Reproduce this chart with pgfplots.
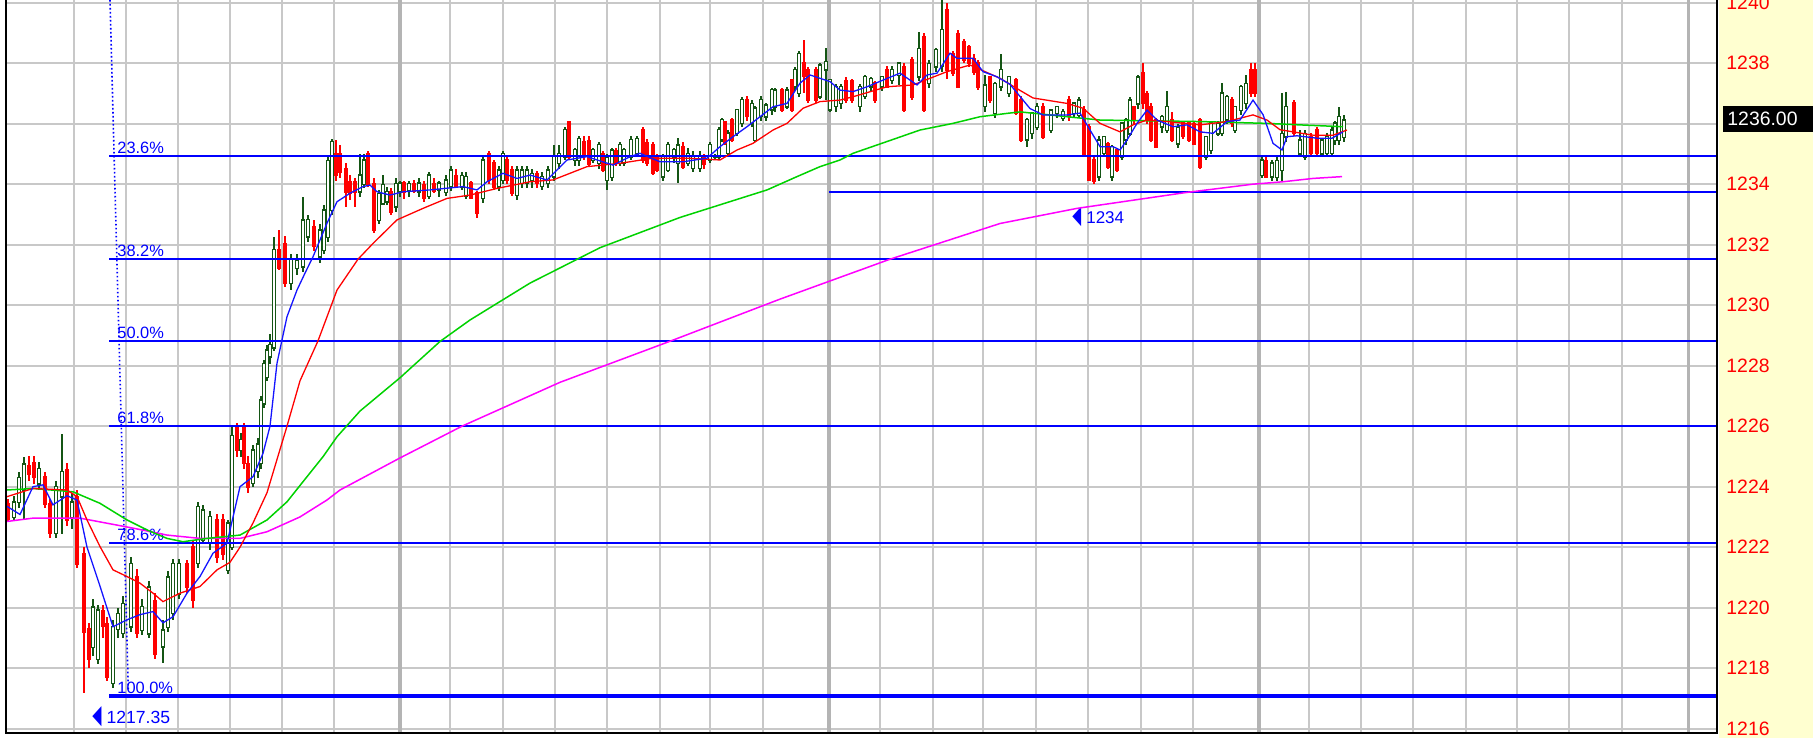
\documentclass[border=0pt]{standalone}
\usepackage{pgfplots}
\pgfplotsset{compat=1.18}
\usepackage{pgfplotstable}
\usepackage{graphicx}
\usepackage{fontspec}
\setmainfont{Liberation Sans}
\newfontfamily\dejavu{DejaVu Sans}
\definecolor{candleG}{RGB}{20,85,20}
\definecolor{candleR}{RGB}{255,0,0}
\definecolor{gridgray}{RGB}{200,200,200}
\definecolor{daygray}{RGB}{180,180,180}
\definecolor{fibblue}{RGB}{0,0,255}
\definecolor{maBlue}{RGB}{20,20,255}
\definecolor{maRed}{RGB}{255,0,0}
\definecolor{maGreen}{RGB}{0,210,0}
\definecolor{maMag}{RGB}{255,0,255}
\definecolor{panel}{RGB}{255,255,208}

\pgfplotstableread{
x o h l c
14 1223.00 1223.70 1222.90 1223.50
19 1223.50 1224.50 1223.30 1224.30
24 1223.90 1225.00 1222.90 1224.75
39 1224.10 1224.80 1223.90 1224.60
56 1222.46 1224.20 1222.30 1224.00
62 1223.67 1225.76 1222.46 1224.50
72 1223.00 1223.80 1222.60 1223.50
93 1218.71 1220.30 1218.40 1220.03
98 1218.30 1220.10 1218.16 1219.92
113 1217.50 1219.60 1217.35 1219.37
118 1219.30 1220.00 1219.00 1219.80
123 1219.15 1220.40 1219.00 1220.14
131 1219.37 1221.70 1219.20 1221.46
142 1219.26 1220.30 1219.10 1220.03
149 1219.15 1220.90 1219.00 1220.69
163 1218.71 1219.59 1218.16 1219.26
168 1219.37 1221.20 1219.20 1221.02
173 1219.81 1221.60 1219.60 1221.46
179 1220.47 1221.60 1220.30 1221.46
198 1221.46 1223.50 1221.30 1223.34
203 1222.24 1223.40 1222.10 1223.23
210 1222.13 1223.20 1221.90 1223.01
228 1221.24 1222.90 1221.10 1222.79
232 1222.01 1226.04 1221.90 1225.70
241 1225.20 1225.80 1225.00 1225.55
253 1224.11 1225.40 1224.00 1225.21
258 1224.50 1225.60 1224.30 1225.40
261 1224.77 1227.00 1224.60 1226.86
264 1226.75 1228.20 1226.60 1228.08
267 1227.63 1228.70 1227.50 1228.52
270 1228.30 1229.07 1228.08 1228.70
274 1228.60 1232.27 1228.50 1231.83
291 1230.73 1231.70 1230.50 1231.50
297 1231.22 1231.70 1231.00 1231.50
303 1231.28 1233.59 1231.10 1232.82
308 1232.27 1233.00 1232.10 1232.82
320 1231.61 1232.70 1231.40 1232.49
324 1231.83 1233.30 1231.70 1233.15
328 1232.27 1234.95 1232.10 1234.80
332 1233.15 1235.52 1233.00 1235.40
360 1233.75 1235.02 1233.60 1234.30
364 1234.00 1235.02 1233.90 1234.80
379 1232.82 1233.80 1232.70 1233.70
383 1233.37 1234.30 1233.30 1234.00
387 1233.42 1233.90 1233.30 1233.75
396 1233.26 1234.20 1233.10 1234.03
400 1233.75 1234.10 1233.60 1234.03
409 1233.80 1234.10 1233.60 1234.03
419 1233.75 1234.20 1233.60 1234.03
429 1233.60 1234.40 1233.50 1234.30
439 1233.81 1234.10 1233.60 1234.03
446 1233.75 1234.30 1233.60 1234.14
451 1233.92 1234.60 1233.80 1234.47
462 1233.92 1234.40 1233.80 1234.30
466 1233.59 1234.40 1233.50 1234.25
483 1233.53 1234.95 1233.40 1234.80
499 1233.92 1234.60 1233.80 1234.47
503 1234.14 1235.10 1234.00 1235.02
517 1233.64 1234.60 1233.50 1234.47
522 1234.03 1234.60 1233.90 1234.47
527 1234.03 1234.60 1233.90 1234.47
532 1234.14 1234.50 1233.90 1234.36
542 1233.92 1234.40 1233.80 1234.25
548 1234.03 1234.60 1233.90 1234.47
554 1234.25 1235.30 1234.10 1234.91
559 1234.70 1235.30 1234.50 1235.00
565 1234.91 1235.90 1234.80 1235.80
575 1234.80 1235.20 1234.60 1235.14
579 1234.80 1235.60 1234.60 1235.52
593 1234.80 1235.20 1234.70 1235.14
599 1234.69 1235.40 1234.50 1235.30
607 1234.14 1235.00 1233.81 1234.91
612 1234.25 1235.20 1234.10 1235.14
620 1234.69 1235.40 1234.60 1235.30
624 1234.69 1235.20 1234.60 1235.14
631 1234.91 1235.60 1234.80 1235.47
637 1235.02 1235.60 1234.90 1235.52
663 1234.25 1235.00 1234.10 1234.91
668 1234.47 1235.40 1234.40 1235.30
674 1234.91 1235.20 1234.70 1235.14
678 1234.70 1235.52 1234.03 1235.30
688 1234.69 1235.20 1234.60 1235.02
693 1234.53 1235.10 1234.40 1234.91
700 1234.53 1235.10 1234.40 1234.91
710 1234.80 1235.40 1234.70 1235.30
715 1234.91 1235.00 1234.85 1234.96
719 1234.91 1235.90 1234.80 1235.80
722 1235.47 1236.20 1235.40 1236.13
728 1235.02 1235.80 1234.90 1235.69
737 1235.69 1236.50 1235.60 1236.46
742 1236.02 1236.90 1235.90 1236.79
752 1236.02 1236.80 1235.90 1236.68
755 1235.46 1236.60 1235.40 1236.51
761 1236.24 1236.90 1236.10 1236.79
766 1236.24 1236.70 1236.10 1236.62
772 1236.46 1237.20 1236.30 1237.12
775 1236.57 1237.20 1236.40 1237.12
787 1236.57 1237.20 1236.50 1237.12
795 1237.23 1237.90 1237.10 1237.78
799 1237.01 1238.40 1236.90 1238.33
820 1236.90 1238.00 1236.80 1237.95
826 1237.78 1238.50 1236.79 1238.05
830 1236.46 1237.50 1236.40 1237.45
836 1236.57 1237.30 1236.40 1237.23
841 1236.68 1237.30 1236.50 1237.23
860 1236.57 1237.30 1236.40 1237.23
865 1236.90 1237.60 1236.80 1237.56
871 1237.23 1237.55 1237.10 1237.50
882 1237.23 1237.60 1237.10 1237.56
892 1237.45 1237.90 1237.30 1237.78
899 1237.61 1238.05 1237.27 1238.00
919 1237.56 1239.04 1237.40 1238.49
929 1237.34 1238.10 1237.20 1238.00
936 1237.89 1238.50 1237.70 1238.44
942 1237.89 1240.09 1237.70 1239.10
985 1236.57 1237.60 1236.40 1237.28
995 1236.35 1237.40 1236.20 1237.34
1001 1237.23 1238.33 1237.10 1237.78
1009 1237.01 1237.60 1236.90 1237.56
1027 1235.46 1236.20 1235.24 1236.13
1032 1235.68 1236.40 1235.50 1236.35
1037 1235.90 1236.70 1235.80 1236.57
1051 1235.79 1236.50 1235.70 1236.46
1057 1236.35 1236.60 1236.20 1236.57
1063 1236.18 1236.50 1236.10 1236.40
1074 1236.35 1236.70 1236.20 1236.68
1079 1236.29 1236.90 1236.20 1236.79
1099 1234.25 1235.60 1234.10 1235.46
1104 1235.02 1235.60 1234.90 1235.57
1112 1234.25 1235.30 1234.10 1235.24
1122 1234.91 1236.05 1234.80 1236.02
1126 1235.46 1236.20 1235.30 1236.13
1130 1235.68 1236.90 1235.60 1236.79
1138 1236.68 1237.60 1236.50 1237.56
1162 1235.90 1236.30 1235.70 1236.24
1167 1235.79 1237.10 1235.70 1236.57
1178 1235.35 1236.00 1235.20 1235.90
1206 1234.91 1235.60 1234.80 1235.57
1211 1235.13 1236.10 1235.00 1236.02
1218 1235.68 1236.10 1235.60 1236.02
1222 1235.68 1237.34 1235.60 1237.01
1227 1236.13 1236.95 1236.00 1236.90
1235 1235.79 1236.60 1235.70 1236.57
1241 1236.46 1237.30 1236.30 1237.23
1246 1236.68 1237.60 1236.50 1237.34
1262 1234.30 1234.90 1234.20 1234.80
1272 1234.25 1234.80 1234.10 1234.69
1277 1234.25 1234.90 1234.10 1234.80
1282 1234.47 1237.01 1234.10 1235.68
1286 1235.57 1237.06 1235.40 1236.57
1300 1235.02 1235.80 1234.90 1235.46
1305 1234.91 1235.80 1234.80 1235.68
1322 1235.02 1235.50 1234.90 1235.46
1327 1235.02 1235.70 1234.90 1235.57
1332 1235.02 1235.90 1234.90 1235.79
1335 1235.46 1236.10 1235.30 1236.02
1339 1235.46 1236.57 1235.30 1236.24
1344 1235.57 1236.30 1235.40 1236.13
}\upC

\pgfplotstableread{
x o h l c
8 1223.45 1223.60 1222.85 1222.95
29 1224.70 1225.00 1224.20 1224.40
34 1224.77 1225.00 1224.10 1224.33
45 1224.33 1224.50 1223.30 1223.45
50 1223.45 1223.60 1222.30 1222.46
67 1224.55 1224.80 1222.70 1222.90
77 1223.67 1223.90 1221.30 1221.46
84 1221.80 1222.00 1217.20 1219.20
89 1219.30 1219.50 1218.00 1218.30
103 1219.90 1220.10 1219.00 1219.40
107 1219.48 1219.70 1217.60 1217.72
137 1221.02 1221.30 1219.00 1219.15
155 1220.25 1220.50 1218.30 1218.49
187 1221.46 1221.60 1220.50 1220.69
193 1222.01 1222.20 1220.00 1220.25
217 1222.90 1223.10 1221.50 1221.68
223 1222.90 1223.10 1221.60 1221.79
237 1225.98 1226.10 1225.00 1225.21
244 1225.98 1226.10 1224.60 1224.77
248 1224.77 1225.00 1223.80 1224.00
279 1231.83 1232.49 1231.17 1231.22
285 1232.05 1232.30 1230.60 1230.73
314 1232.60 1232.80 1231.80 1231.94
336 1235.02 1235.46 1234.10 1234.30
340 1235.00 1235.30 1234.20 1234.40
346 1234.52 1234.70 1233.26 1233.75
350 1234.08 1234.30 1233.50 1233.70
355 1234.08 1234.20 1233.26 1233.75
368 1235.02 1235.10 1233.90 1234.03
374 1234.03 1234.20 1232.40 1232.49
391 1233.75 1233.90 1233.00 1233.10
404 1234.03 1234.10 1233.50 1233.75
414 1234.03 1234.15 1233.70 1233.80
424 1233.97 1234.10 1233.40 1233.53
434 1234.03 1234.20 1233.70 1233.80
456 1234.30 1234.50 1233.90 1233.92
471 1234.03 1234.10 1233.50 1233.53
477 1233.70 1233.80 1232.90 1233.04
489 1235.02 1235.10 1234.00 1234.14
494 1234.70 1234.80 1233.80 1233.92
507 1234.80 1234.90 1234.00 1234.14
512 1234.47 1234.60 1233.60 1233.70
537 1234.36 1234.45 1233.90 1234.03
569 1236.07 1236.10 1234.80 1234.91
584 1235.40 1235.60 1234.80 1235.00
589 1235.46 1235.60 1234.60 1234.69
603 1235.00 1235.10 1234.40 1234.47
616 1235.10 1235.20 1234.60 1234.70
643 1235.80 1235.90 1234.70 1234.80
647 1235.36 1235.50 1234.60 1234.69
653 1235.30 1235.40 1234.30 1234.36
657 1234.91 1235.00 1234.40 1234.47
683 1235.25 1235.40 1234.50 1234.58
704 1234.91 1235.00 1234.50 1234.69
725 1236.07 1236.10 1235.30 1235.36
732 1236.13 1236.20 1235.40 1235.47
747 1236.79 1236.90 1236.10 1236.24
782 1237.12 1237.20 1236.40 1236.46
792 1237.45 1237.50 1236.40 1236.46
804 1238.00 1238.77 1237.01 1237.56
808 1237.78 1237.90 1236.70 1236.79
816 1237.78 1237.90 1236.70 1236.79
846 1237.45 1237.56 1236.70 1236.79
852 1237.45 1237.50 1236.70 1236.79
875 1237.34 1237.40 1236.70 1236.79
887 1237.78 1237.90 1237.20 1237.23
904 1237.89 1238.00 1236.40 1236.46
912 1238.11 1238.20 1236.80 1236.90
924 1238.88 1239.00 1236.40 1236.46
947 1239.76 1240.00 1237.50 1237.78
953 1238.33 1238.40 1237.60 1237.67
958 1238.99 1239.10 1237.20 1237.23
964 1238.71 1238.80 1238.00 1238.11
969 1238.55 1238.60 1237.90 1237.99
974 1238.16 1238.30 1237.60 1237.72
978 1238.00 1238.10 1237.10 1237.23
990 1237.56 1237.60 1236.70 1236.79
1016 1237.45 1237.50 1236.30 1236.35
1021 1236.79 1236.90 1235.40 1235.46
1043 1236.57 1236.70 1235.50 1235.57
1069 1236.79 1236.90 1236.10 1236.24
1084 1236.46 1236.60 1234.90 1235.02
1089 1235.90 1236.00 1234.10 1234.14
1094 1234.80 1234.90 1234.03 1234.10
1108 1235.35 1235.40 1234.50 1234.58
1117 1235.13 1235.20 1234.40 1234.47
1134 1236.57 1236.60 1236.00 1236.13
1143 1237.67 1238.00 1236.50 1236.68
1147 1237.01 1237.10 1236.00 1236.13
1151 1236.57 1236.70 1235.40 1235.46
1156 1236.13 1236.20 1235.20 1235.24
1172 1236.13 1236.40 1235.40 1235.46
1183 1236.02 1236.10 1235.50 1235.57
1189 1236.02 1236.10 1235.40 1235.46
1194 1236.02 1236.10 1235.30 1235.35
1200 1236.13 1236.20 1234.50 1234.58
1232 1236.79 1236.90 1235.90 1236.02
1251 1237.78 1238.00 1236.90 1237.01
1255 1237.78 1238.00 1236.90 1237.01
1266 1234.80 1234.90 1234.20 1234.25
1294 1236.68 1236.80 1235.60 1235.68
1311 1235.57 1235.70 1234.90 1235.02
1317 1235.79 1235.90 1234.90 1235.02
}\dnC

\begin{document}
\begin{tikzpicture}
\useasboundingbox (0,0) rectangle (906.5pt,369pt);
\fill[white] (0,0) rectangle (906.5pt,369pt);
\fill[panel] (859.5pt,0) rectangle (906.5pt,369pt);
\begin{axis}[name=ax, at={(3pt,2.5pt)}, anchor=south west, scale only axis,
  width=855.5pt, height=366.5pt,
  xmin=6, xmax=1717, ymin=1215.857, ymax=1240.089,
  axis line style={draw=none},
  major tick length=0pt,
  xtick={73.5,126,177.5,229.5,281.5,334,450,502.7,555.3,607,659.5,710,762.6,880,932.7,983.3,1035.8,1088.3,1140.9,1193.4,1309,1361,1413.3,1466,1517.3,1569.3,1621.7},
  xticklabel=\empty,
  extra x ticks={400,828.8,1259,1688.3},
  extra x tick labels={},
  extra x tick style={grid=major, major grid style={draw=daygray, line width=1.8pt}},
  ytick={1216,1218,...,1240},
  yticklabels={1216,1218,1220,1222,1224,1226,1228,1230,1232,1234,{},1238,1240},
  yticklabel pos=right,
  yticklabel style={text=red, font=\fontsize{9.7}{10}\selectfont, anchor=west, inner sep=0pt, xshift=4.5pt},
  grid=major,
  major grid style={draw=gridgray, line width=1pt},
]
% candle wicks
\addplot[draw=none, forget plot, error bars/.cd, y dir=both, y explicit, error mark=none,
  error bar style={draw=candleG, line width=0.6pt}]
  table[x=x, y expr={(\thisrow{h}+\thisrow{l})/2}, y error expr={(\thisrow{h}-\thisrow{l})/2}] {\upC};
\addplot[draw=none, forget plot, error bars/.cd, y dir=both, y explicit, error mark=none,
  error bar style={draw=candleR, line width=0.6pt}]
  table[x=x, y expr={(\thisrow{h}+\thisrow{l})/2}, y error expr={(\thisrow{h}-\thisrow{l})/2}] {\dnC};
% candle bodies
\addplot[draw=none, forget plot, error bars/.cd, y dir=both, y explicit, error mark=none,
  error bar style={draw=candleG, line width=2pt}]
  table[x=x, y expr={(\thisrow{o}+\thisrow{c})/2}, y error expr={abs(\thisrow{c}-\thisrow{o})/2+0.03}] {\upC};
\addplot[draw=none, forget plot, error bars/.cd, y dir=both, y explicit, error mark=none,
  error bar style={draw=white, line width=0.7pt}]
  table[x=x, y expr={(\thisrow{o}+\thisrow{c})/2}, y error expr={max(abs(\thisrow{c}-\thisrow{o})/2-0.015,0.0001)}] {\upC};
\addplot[draw=none, forget plot, error bars/.cd, y dir=both, y explicit, error mark=none,
  error bar style={draw=candleR, line width=2pt}]
  table[x=x, y expr={(\thisrow{o}+\thisrow{c})/2}, y error expr={abs(\thisrow{c}-\thisrow{o})/2+0.03}] {\dnC};

% Fibonacci levels
\addplot[fibblue, line width=1pt] coordinates {(109,1234.93) (1717,1234.93)};
\addplot[fibblue, line width=1pt] coordinates {(829,1233.75) (1717,1233.75)};
\addplot[fibblue, line width=1pt] coordinates {(109,1231.52) (1717,1231.52)};
\addplot[fibblue, line width=1pt] coordinates {(109,1228.82) (1717,1228.82)};
\addplot[fibblue, line width=1pt] coordinates {(109,1226.02) (1717,1226.02)};
\addplot[fibblue, line width=1pt] coordinates {(109,1222.13) (1717,1222.13)};
\addplot[fibblue, line width=2pt] coordinates {(109,1217.08) (1717,1217.08)};
\addplot[fibblue, line width=0.8pt, dash pattern=on 0.8pt off 1.2pt] coordinates {(110,1240.09) (128.3,1217.28)};

\begin{scope}[every node/.style={anchor=south west, inner sep=0pt, text=fibblue, font=\fontsize{8.2}{9}\selectfont}]
\node at (axis cs:117,1234.99) {23.6\%};
\node at (axis cs:117,1231.58) {38.2\%};
\node at (axis cs:117,1228.88) {50.0\%};
\node at (axis cs:117,1226.08) {61.8\%};
\node at (axis cs:117,1222.19) {78.6\%};
\node at (axis cs:117,1217.16) {100.0\%};
\end{scope}
\node[anchor=west, inner sep=0pt, text=fibblue, font=\fontsize{8.8}{9}\selectfont] at (axis cs:92,1216.39)
  {{\dejavu\scalebox{0.68}[1.5]{◀}}\hspace{2.5pt}1217.35};
\node[anchor=west, inner sep=0pt, text=fibblue, font=\fontsize{8.5}{9}\selectfont] at (axis cs:1072,1232.91)
  {{\dejavu\scalebox{0.68}[1.5]{◀}}\hspace{2.5pt}1234};

% moving averages
\addplot[maMag, line width=0.75pt] coordinates {(7,1222.85) (33,1222.96) (80,1222.96) (133,1222.63) (167,1222.4) (200,1222.29) (240,1222.29) (267,1222.51) (300,1223.0) (327,1223.56) (340,1223.89) (400,1224.95) (462,1226.0) (560,1227.45) (671,1228.82) (780,1230.2) (890,1231.52) (1000,1232.7) (1077,1233.2) (1185,1233.72) (1253,1234.0) (1283,1234.08) (1313,1234.19) (1342,1234.25)};
\addplot[maGreen, line width=0.75pt] coordinates {(7,1223.89) (33,1223.94) (73,1223.83) (100,1223.45) (127,1222.9) (147,1222.57) (167,1222.29) (183,1222.18) (207,1222.29) (240,1222.4) (267,1222.9) (287,1223.5) (307,1224.33) (323,1224.99) (337,1225.65) (360,1226.5) (400,1227.6) (440,1228.8) (470,1229.51) (530,1230.73) (600,1231.9) (680,1232.9) (767,1233.81) (797,1234.25) (820,1234.58) (840,1234.8) (853,1235.02) (887,1235.41) (920,1235.79) (953,1236.01) (980,1236.23) (1007,1236.34) (1020,1236.39) (1067,1236.23) (1100,1236.12) (1200,1236.07) (1267,1236.01) (1300,1235.96) (1343,1235.9)};
\addplot[maRed, line width=0.65pt] coordinates {(7,1223.67) (33,1223.94) (67,1223.89) (77,1223.67) (87,1222.9) (100,1222.02) (113,1221.25) (127,1221.03) (140,1220.81) (153,1220.48) (163,1220.2) (180,1220.48) (200,1220.7) (217,1221.25) (230,1221.5) (240,1222.0) (253,1222.8) (267,1223.8) (287,1226.0) (300,1227.5) (318,1228.82) (337,1230.5) (358,1231.52) (373,1232.04) (397,1232.82) (423,1233.2) (447,1233.53) (470,1233.64) (497,1233.86) (530,1234.08) (553,1234.14) (587,1234.58) (620,1234.69) (653,1234.86) (687,1234.86) (720,1234.8) (737,1235.13) (753,1235.35) (773,1235.79) (787,1236.01) (803,1236.51) (820,1236.73) (840,1236.78) (853,1236.89) (887,1237.22) (913,1237.28) (947,1237.72) (970,1237.94) (1000,1237.5) (1020,1237.1) (1033,1236.85) (1067,1236.67) (1083,1236.51) (1100,1236.01) (1120,1235.73) (1133,1235.96) (1147,1236.12) (1167,1236.07) (1200,1235.96) (1227,1236.07) (1253,1236.29) (1267,1236.12) (1280,1235.8) (1293,1235.73) (1313,1235.62) (1333,1235.62) (1347,1235.79)};
\addplot[maBlue, line width=0.65pt] coordinates {(7,1223.35) (20,1223.08) (33,1224.0) (43,1224.06) (53,1223.4) (67,1223.7) (77,1223.56) (87,1222.0) (100,1220.71) (113,1219.37) (127,1219.6) (140,1219.77) (153,1219.87) (163,1219.5) (173,1219.7) (187,1220.48) (200,1221.03) (213,1221.8) (227,1222.13) (240,1224.0) (253,1224.33) (263,1225.1) (270,1226.0) (277,1228.08) (287,1229.62) (297,1230.5) (305,1231.06) (313,1231.6) (327,1232.71) (337,1233.42) (350,1233.7) (363,1233.92) (370,1233.97) (377,1233.75) (390,1233.64) (403,1233.75) (430,1233.81) (463,1233.92) (477,1233.81) (487,1234.08) (503,1234.36) (517,1234.19) (530,1234.3) (547,1234.14) (557,1234.47) (567,1234.8) (587,1234.91) (613,1234.63) (630,1234.91) (640,1235.02) (660,1234.74) (683,1234.74) (707,1234.86) (720,1235.24) (733,1235.57) (747,1235.9) (760,1236.23) (773,1236.56) (787,1236.67) (800,1237.34) (810,1237.61) (820,1237.5) (830,1237.39) (840,1237.11) (853,1237.06) (867,1237.22) (883,1237.44) (900,1237.67) (917,1237.28) (927,1237.61) (937,1237.67) (950,1238.33) (957,1238.16) (973,1238.16) (983,1237.72) (997,1237.55) (1010,1237.3) (1020,1236.9) (1030,1236.5) (1043,1236.29) (1067,1236.29) (1080,1236.35) (1090,1235.79) (1100,1235.24) (1113,1235.24) (1120,1235.13) (1127,1235.46) (1137,1236.01) (1147,1236.45) (1157,1236.12) (1173,1235.9) (1187,1235.96) (1200,1235.73) (1213,1235.68) (1227,1236.07) (1240,1236.12) (1253,1236.78) (1263,1236.3) (1273,1235.35) (1282,1235.13) (1287,1235.57) (1297,1235.6) (1317,1235.52) (1332,1235.52) (1343,1235.73)};
\end{axis}
\draw[black, line width=1.3pt] (ax.north west) -- (ax.south west) -- (ax.south east) -- (ax.north east);
\fill[black] (861.5pt,303pt) rectangle (906.5pt,316pt);
\node[anchor=west, inner sep=0pt, text=white, font=\fontsize{9.7}{10}\selectfont] at (863.5pt,309.5pt) {1236.00};
\end{tikzpicture}
\end{document}
